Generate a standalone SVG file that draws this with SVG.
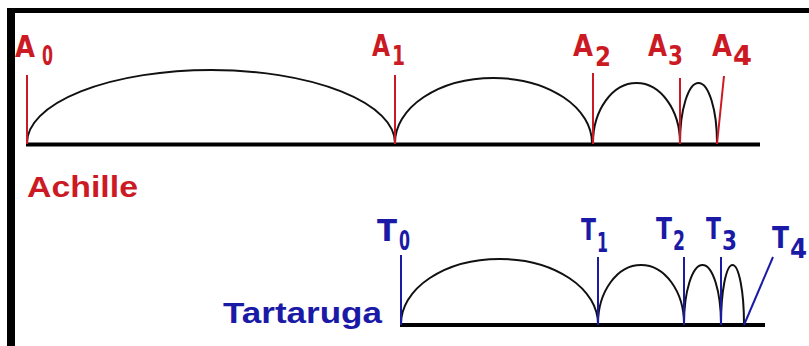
<svg xmlns="http://www.w3.org/2000/svg" width="809" height="346" viewBox="0 0 809 346">
  <style>
    .frame { fill: #000; }
    .base { stroke: #000; stroke-width: 4; fill: none; }
    .arc { stroke: #111; stroke-width: 2; fill: none; }
    .ra { stroke: #cc1a24; stroke-width: 2; fill: none; }
    .ta { stroke: #1a1aa6; stroke-width: 2; fill: none; }
    .lr { fill: #cc1a24; font-family: "DejaVu Sans", "Liberation Sans", sans-serif; font-weight: bold; }
    .lb { fill: #1a1aa6; font-family: "DejaVu Sans", "Liberation Sans", sans-serif; font-weight: bold; }
    .big { font-size: 31px; }
    .sub { font-size: 27px; }
    .name { font-family: "Liberation Sans", Arial, sans-serif; font-weight: bold; font-size: 29px; }
  </style>
  <rect width="809" height="346" fill="#fff"/>
  <rect class="frame" x="7" y="8" width="802" height="5"/>
  <rect class="frame" x="7" y="8" width="8" height="338"/>

  <g id="connectors">
    <line class="base" x1="26" y1="144.5" x2="760" y2="144.5"/>
    <line class="base" x1="400" y1="325" x2="765" y2="325"/>
    <path class="arc" d="M27 143 A184 73 0 0 1 395 143"/>
    <path class="arc" d="M395 143 A98.5 65 0 0 1 592 143"/>
    <path class="arc" d="M593 143 A43.5 60 0 0 1 680 143"/>
    <path class="arc" d="M680 143 A18.5 60 0 0 1 717 143"/>
    <path class="arc" d="M401 324 A98.5 65 0 0 1 598 324"/>
    <path class="arc" d="M598 324 A43 59 0 0 1 684 324"/>
    <path class="arc" d="M684 324 A18.5 59 0 0 1 721 324"/>
    <path class="arc" d="M721 324 A11.5 59 0 0 1 744 324"/>
    <line class="ra" x1="27" y1="75" x2="27" y2="144"/>
    <line class="ra" x1="395" y1="75" x2="395" y2="144"/>
    <line class="ra" x1="593" y1="73" x2="593" y2="144"/>
    <line class="ra" x1="680" y1="78" x2="680" y2="144"/>
    <line class="ra" x1="724" y1="76" x2="717" y2="144"/>
    <line class="ta" x1="401" y1="255" x2="401" y2="325"/>
    <line class="ta" x1="598" y1="257" x2="598" y2="325"/>
    <line class="ta" x1="684" y1="257" x2="684" y2="325"/>
    <line class="ta" x1="721" y1="257" x2="721" y2="325"/>
    <line class="ta" x1="744" y1="325" x2="773" y2="257"/>
  </g>

  <g id="A0"><text class="lr big"><tspan x="15" y="57" textLength="20" lengthAdjust="spacingAndGlyphs">A</tspan><tspan class="sub" x="42" y="65" textLength="11" lengthAdjust="spacingAndGlyphs">0</tspan></text></g>
  <g id="A1"><text class="lr big"><tspan x="372" y="56" textLength="18" lengthAdjust="spacingAndGlyphs">A</tspan><tspan class="sub" x="392" y="65" textLength="13" lengthAdjust="spacingAndGlyphs">1</tspan></text></g>
  <g id="A2"><text class="lr big"><tspan x="573" y="56" textLength="20" lengthAdjust="spacingAndGlyphs">A</tspan><tspan class="sub" x="595" y="66" textLength="16" lengthAdjust="spacingAndGlyphs">2</tspan></text></g>
  <g id="A3"><text class="lr big"><tspan x="648" y="56" textLength="19" lengthAdjust="spacingAndGlyphs">A</tspan><tspan class="sub" x="668" y="65" textLength="15" lengthAdjust="spacingAndGlyphs">3</tspan></text></g>
  <g id="A4"><text class="lr big"><tspan x="712" y="56" textLength="20" lengthAdjust="spacingAndGlyphs">A</tspan><tspan class="sub" x="733" y="65" textLength="19" lengthAdjust="spacingAndGlyphs">4</tspan></text></g>
  <g id="Achille"><text class="lr name" x="27" y="197" textLength="111" lengthAdjust="spacingAndGlyphs">Achille</text></g>

  <g id="T0"><text class="lb big"><tspan x="377" y="241" textLength="20" lengthAdjust="spacingAndGlyphs">T</tspan><tspan class="sub" x="399" y="250" textLength="11" lengthAdjust="spacingAndGlyphs">0</tspan></text></g>
  <g id="T1"><text class="lb big"><tspan x="581" y="240" textLength="15" lengthAdjust="spacingAndGlyphs">T</tspan><tspan class="sub" x="597" y="252" textLength="11" lengthAdjust="spacingAndGlyphs">1</tspan></text></g>
  <g id="T2"><text class="lb big"><tspan x="656" y="239" textLength="16" lengthAdjust="spacingAndGlyphs">T</tspan><tspan class="sub" x="673" y="250" textLength="12" lengthAdjust="spacingAndGlyphs">2</tspan></text></g>
  <g id="T3"><text class="lb big"><tspan x="706" y="239" textLength="15" lengthAdjust="spacingAndGlyphs">T</tspan><tspan class="sub" x="722" y="250" textLength="15" lengthAdjust="spacingAndGlyphs">3</tspan></text></g>
  <g id="T4"><text class="lb big"><tspan x="772" y="248" textLength="17" lengthAdjust="spacingAndGlyphs">T</tspan><tspan class="sub" x="790" y="258" textLength="17" lengthAdjust="spacingAndGlyphs">4</tspan></text></g>
  <g id="Tartaruga"><text class="lb name" x="223" y="323" textLength="159" lengthAdjust="spacingAndGlyphs">Tartaruga</text></g>
</svg>
